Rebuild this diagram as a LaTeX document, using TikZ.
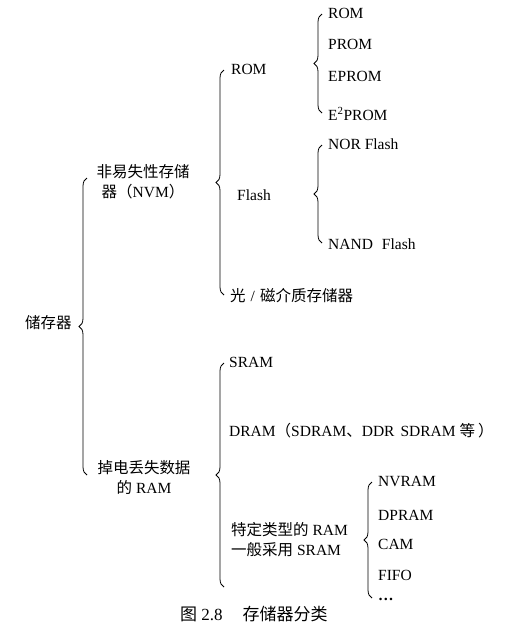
\documentclass[tikz,border=0pt]{standalone}
\usepackage{fontspec}
\setmainfont{Liberation Serif}
\newfontfamily\cjk{Noto Sans CJK SC}
\usetikzlibrary{decorations.pathreplacing}
\newcommand\C[1]{{\cjk #1}}
\begin{document}
\begin{tikzpicture}[x=1pt,y=-1pt,
  lbl/.style={anchor=base west, inner sep=0pt, font=\fontsize{15.5}{20}\selectfont},
  lblc/.style={anchor=base, inner sep=0pt, font=\fontsize{15.5}{20}\selectfont},
  brc/.style={decorate, decoration={brace, amplitude=8pt}, line width=0.8pt}]
\useasboundingbox (0,0) rectangle (520,633);
\fill[white] (0,0) rectangle (520,633);
% level 0
\node[lbl] (root) at (25,328) {\C{储存器}};
% level 1
\node[lblc] (nvma) at (143,177) {\C{非易失性存储}};
\node[lblc] (nvmb) at (143,197) {\C{器（}NVM\C{）}};
\node[lblc] (rama) at (144,473) {\C{掉电丢失数据}};
\node[lblc] (ramb) at (144,493) {\C{的} RAM};
% level 2 (NVM)
\node[lbl] (rom) at (231,74) {ROM};
\node[lbl] (flash) at (237,200) {Flash};
\node[lbl] (opt) at (230,301) {\C{光}\hspace{5pt}/\hspace{5pt}\C{磁介质存储器}};
% level 3 (ROM)
\node[lbl] (rom1) at (328,18) {ROM};
\node[lbl] (prom) at (328,49) {PROM};
\node[lbl] (eprom) at (328,81) {EPROM};
\node[lbl] (e2prom) at (328,120) {E\textsuperscript{2}PROM};
% level 3 (Flash)
\node[lbl] (nor) at (328,149) {NOR Flash};
\node[lbl] (nand) at (328,249) {NAND\hspace{9pt}Flash};
% level 2 (RAM)
\node[lbl] (sram) at (229,367) {SRAM};
\node[lbl] (dram) at (229,436) {DRAM\C{（}SDRAM\C{、}DDR\hspace{6pt}SDRAM \C{等}\hspace{3pt}\C{）}};
\node[lbl] (spa) at (231,535) {\C{特定类型的} RAM};
\node[lbl] (spb) at (231,555) {\C{一般采用} SRAM};
% level 3 (special RAM)
\node[lbl] (nvram) at (378,486) {NVRAM};
\node[lbl] (dpram) at (378,520) {DPRAM};
\node[lbl] (cam) at (378,549) {CAM};
\node[lbl] (fifo) at (378,580) {FIFO};
\node[lbl] (dots) at (378,600) {\textbf{…}};
% caption
\node[lbl, font=\fontsize{17}{20}\selectfont] (cap) at (180,620) {\C{图} 2.8\hspace{20pt}\C{存储器分类}};
% brace end points
\coordinate (b1t) at (87,178);  \coordinate (b1b) at (87,475);
\coordinate (b2t) at (224,70);  \coordinate (b2b) at (224,295);
\coordinate (b3t) at (322,14);  \coordinate (b3b) at (322,113);
\coordinate (b4t) at (322,145); \coordinate (b4b) at (322,243);
\coordinate (b5t) at (224,363); \coordinate (b5b) at (224,587);
\coordinate (b6t) at (372,482); \coordinate (b6b) at (372,598);
\draw[brc] (b1b) -- (b1t);
\draw[brc] (b2b) -- (b2t);
\draw[brc] (b3b) -- (b3t);
\draw[brc] (b4b) -- (b4t);
\draw[brc] (b5b) -- (b5t);
\draw[brc] (b6b) -- (b6t);
\end{tikzpicture}
\end{document}
